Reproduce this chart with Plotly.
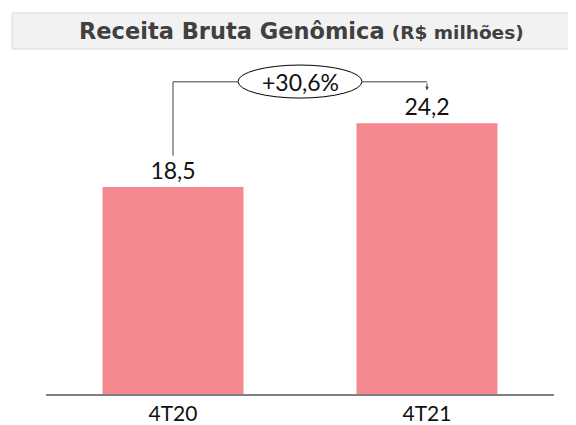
import plotly.graph_objects as go

categories = ["4T20", "4T21"]
values = [18.5, 24.2]
value_labels = ["18,5", "24,2"]
growth_label = "+30,6%"
title_main = "Receita Bruta Genômica"
title_unit = "(R$ milhões)"

BAR_COLOR = "#F4888E"
FONT = "Lato"

OFF = 8  # page body margin
W, H = 576 - OFF, 425 - OFF
ML, MR, MT, MB = 46 - OFF, 22, 55 - OFF, 31
plot_w = W - ML - MR
plot_h = H - MT - MB
YMAX = 30.3

def px_x(p):  # reference pixel -> paper x
    return (p - OFF - ML) / plot_w

def px_y(p):  # reference pixel -> paper y
    return (H - MB - (p - OFF)) / plot_h

fig = go.Figure()
fig.add_trace(go.Bar(
    x=[0, 1], y=values, width=0.555,
    marker=dict(color=BAR_COLOR, line=dict(width=0)),
    text=value_labels, textposition="outside",
    textfont=dict(family=FONT, size=23, color="#111111"),
    cliponaxis=False, hoverinfo="skip",
))

# connector geometry in data units derived from values
top_line = max(values) * 1.153
start_y = values[0] + 2.8
end_y = values[1] + 2.95

shapes = [
    # title band
    dict(type="rect", xref="paper", yref="paper",
         x0=px_x(12), x1=px_x(576), y0=px_y(49), y1=px_y(13),
         fillcolor="#F2F2F2", line=dict(color="#D9D9D9", width=1), layer="below"),
    # left vertical
    dict(type="line", xref="x", yref="y", x0=0, x1=0, y0=start_y, y1=top_line,
         line=dict(color="#404040", width=1)),
    # horizontal
    dict(type="line", xref="x", yref="y", x0=0, x1=1, y0=top_line, y1=top_line,
         line=dict(color="#404040", width=1)),
    # ellipse
    dict(type="circle", xref="x", yref="y", x0=0.256, x1=0.744,
         y0=top_line - 1.45, y1=top_line + 1.5,
         fillcolor="white", line=dict(color="#000000", width=1)),
]

annotations = [
    dict(x=px_x(301), y=px_y(31), xref="paper", yref="paper",
         text=f"<b>{title_main}</b> <b><span style='font-size:18.5px'>{title_unit}</span></b>",
         showarrow=False, font=dict(family="DejaVu Sans", size=22.5, color="#404040"),
         xanchor="center", yanchor="middle"),
    dict(x=0.5, y=top_line, xref="x", yref="y", text=growth_label,
         showarrow=False, font=dict(family=FONT, size=23, color="#111111"),
         xanchor="center", yanchor="middle"),
    dict(x=1, y=end_y, ax=1, ay=top_line, xref="x", yref="y", axref="x", ayref="y",
         text="", showarrow=True, arrowhead=2, arrowsize=0.7, arrowwidth=1,
         arrowcolor="#404040", standoff=0),
]

fig.update_layout(
    width=W, height=H,
    margin=dict(l=ML, r=MR, t=MT, b=MB, pad=0, autoexpand=False),
    paper_bgcolor="white", plot_bgcolor="white",
    showlegend=False,
    shapes=shapes, annotations=annotations,
    xaxis=dict(range=[-0.5, 1.5], tickvals=[0, 1], ticktext=categories,
               showgrid=False, zeroline=False, showline=True, automargin=False,
               linecolor="#7F7F7F", linewidth=2, ticks="",
               tickfont=dict(family=FONT, size=21, color="#111111"), fixedrange=True),
    yaxis=dict(range=[0, YMAX], visible=False, fixedrange=True, automargin=False),
)

fig.write_html("out.html")
